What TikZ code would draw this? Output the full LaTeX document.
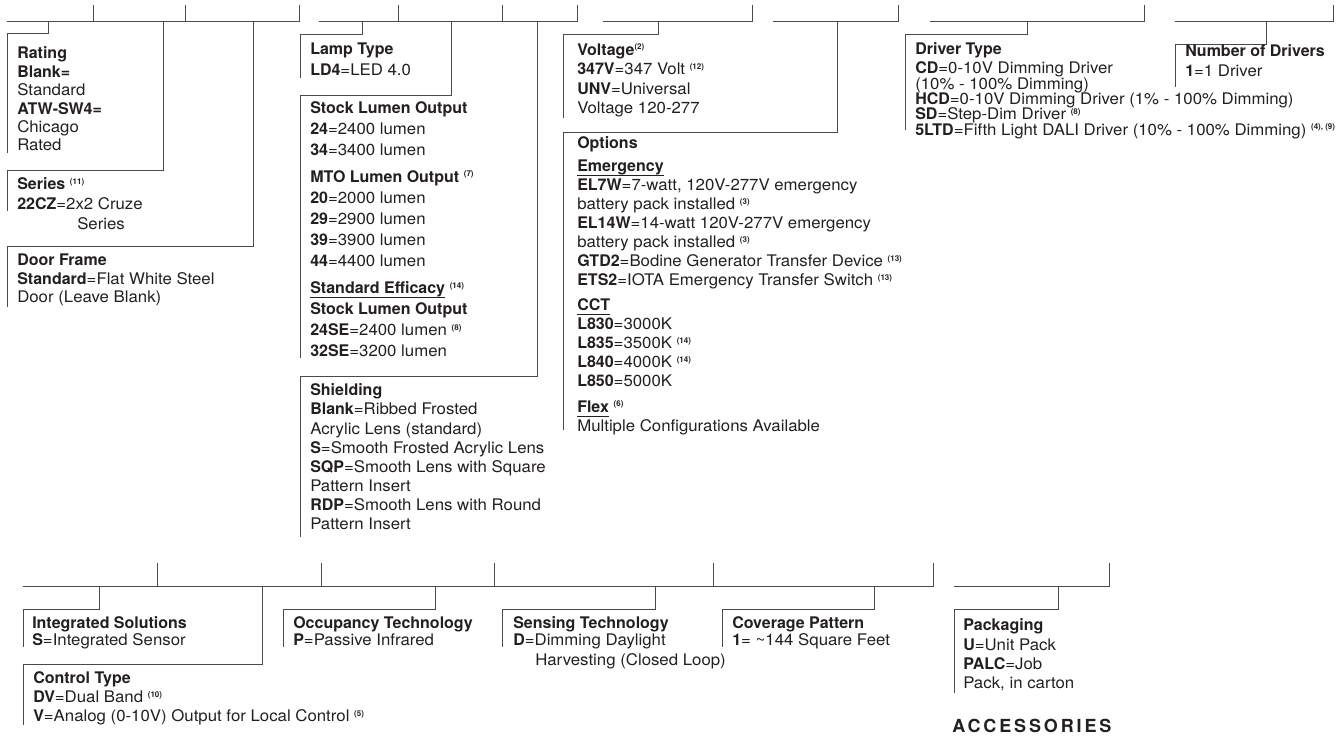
\documentclass[tikz,border=0pt]{standalone}
\usepackage{fontspec}
\setmainfont{TeX Gyre Heros}[UprightFeatures={FakeStretch=1.05}]
\definecolor{ink}{HTML}{231F20}
\definecolor{wirecol}{HTML}{4A4A4A}
\newcommand{\fnote}[1]{\raisebox{4.3pt}{\fontsize{6}{6}\selectfont\bfseries #1}}
\newcommand{\ulhead}[1]{\setbox0=\hbox{\bfseries #1}\rlap{\rule[-3pt]{\wd0}{0.7pt}}\box0\relax}

\begin{document}
\begin{tikzpicture}[x=0.75pt, y=-0.75pt]
  \tikzstyle{wire} = [draw=wirecol, line width=0.75pt]
  % the node point is the baseline of its first line
  \tikzstyle{field} = [anchor=north west, yshift=10pt, align=left, inner sep=0pt, text=ink,
                       execute at begin node={\rule{0pt}{10pt}},
                       font={\fontsize{12}{#1}\selectfont\lineskiplimit -20pt}]
  \useasboundingbox (0,0) rectangle (1339,737);

  % bars of the catalog number, top row and bottom row
  \foreach \from/\to/\y in {7/299/22, 319/577/22, 603/752/22, 773/898/22,
                            930/1144/22, 1175/1333/22, 23/933/587, 954/1109/587}
    \draw[wire] (\from,\y) -- (\to,\y);
  \foreach \x in {93,185,299,398,502,577,752,898,1144,1333}
    \draw[wire] (\x,5) -- (\x,22);
  \foreach \x in {157,321,494,713,933,1109}
    \draw[wire] (\x,563) -- (\x,587);

  % one bracket per field: tap on the bar, corner, end of the left rule
  \foreach \name/\bar/\tx/\ty/\lx/\by in {
      rating/22/48/34/7/153, series/22/163/171/7/211, door/22/253/247/7/307,
      lamp/22/362/35/300/78, stock/22/451/96/300/358, shield/22/537/377/300/537,
      volt/22/658/35/563/118, options/22/837/133/563/430,
      driver/22/1027/35/905/130, count/22/1266/45/1175/87,
      integ/587/99/609/23/647, control/587/262/664/23/725,
      occup/587/435/609/283/647, sensing/587/655/609/502/647,
      cover/587/874/609/722/647, pack/587/1058/609/954/693} {
    \coordinate (\name-tap) at (\tx,\bar);
    \coordinate (\name-top) at (\lx,\ty);
    \coordinate (\name-end) at (\lx,\by);
    \draw[wire] (\name-tap) |- (\name-top) -- (\name-end);
  }

  % top row
  \node[field=13.8pt] (rating) at (17,60)
    {\textbf{Rating}\\\textbf{Blank=}\\Standard\\\textbf{ATW-SW4=}\\Chicago\\Rated};
  \node[field=15pt] (series) at (17,191)
    {\textbf{Series} \fnote{(11)}\\\textbf{22CZ}=2x2 Cruze\\\hspace{45pt}Series};
  \node[field=13.9pt] (door) at (17,267)
    {\textbf{Door Frame}\\\textbf{Standard}=Flat White Steel\\Door (Leave Blank)};
  \node[field=15.75pt] (lamp) at (310,56)
    {\textbf{Lamp Type}\\\textbf{LD4}=LED 4.0};
  \node[field=15.75pt] (stock) at (310,115)
    {\textbf{Stock Lumen Output}\\\textbf{24}=2400 lumen\\\textbf{34}=3400 lumen\\[4pt]
     \textbf{MTO Lumen Output} \fnote{(7)}\\\textbf{20}=2000 lumen\\\textbf{29}=2900 lumen\\
     \textbf{39}=3900 lumen\\\textbf{44}=4400 lumen\\[5pt]
     \ulhead{Standard Efficacy} \fnote{(14)}\\\textbf{Stock Lumen Output}\\
     \textbf{24SE}=2400 lumen \fnote{(8)}\\\textbf{32SE}=3200 lumen};
  \node[field=14.35pt] (shield) at (310,397)
    {\textbf{Shielding}\\\textbf{Blank}=Ribbed Frosted\\Acrylic Lens (standard)\\
     \textbf{S}=Smooth Frosted Acrylic Lens\\\textbf{SQP}=Smooth Lens with Square\\
     Pattern Insert\\\textbf{RDP}=Smooth Lens with Round\\Pattern Insert};
  \node[field=14.5pt] (volt) at (577,57)
    {\textbf{Voltage}\fnote{(2)}\\\textbf{347V}=347 Volt \fnote{(12)}\\
     \textbf{UNV}=Universal\\Voltage 120-277};
  \node[field=14.25pt] (options) at (577,150)
    {\textbf{Options}\\[3pt]\ulhead{Emergency}\\
     \textbf{EL7W}=7-watt, 120V-277V emergency\\battery pack installed \fnote{(3)}\\
     \textbf{EL14W}=14-watt 120V-277V emergency\\battery pack installed \fnote{(3)}\\
     \textbf{GTD2}=Bodine Generator Transfer Device \fnote{(13)}\\
     \textbf{ETS2}=IOTA Emergency Transfer Switch \fnote{(13)}\\[4.5pt]
     \ulhead{CCT}\\\textbf{L830}=3000K\\\textbf{L835}=3500K \fnote{(14)}\\
     \textbf{L840}=4000K \fnote{(14)}\\\textbf{L850}=5000K\\[5pt]
     \ulhead{Flex} \fnote{(6)}\\Multiple Configurations Available};
  \node[field=11.5pt] (driver) at (915,56)
    {\textbf{Driver Type}\\[2.8pt]\textbf{CD}=0-10V Dimming Driver\\(10\% - 100\% Dimming)\\
     \textbf{HCD}=0-10V Dimming Driver (1\% - 100\% Dimming)\\
     \textbf{SD}=Step-Dim Driver \fnote{(8)}\\
     \textbf{5LTD}=Fifth Light DALI Driver (10\% - 100\% Dimming) \fnote{(4), (9)}};
  \node[field=15pt] (count) at (1185,58)
    {\textbf{Number of Drivers}\\\textbf{1}=1 Driver};

  % bottom row
  \node[field=12.75pt] (integ) at (32,630)
    {\textbf{Integrated Solutions}\\\textbf{S}=Integrated Sensor};
  \node[field=14.25pt] (control) at (33,685)
    {\textbf{Control Type}\\\textbf{DV}=Dual Band \fnote{(10)}\\
     \textbf{V}=Analog (0-10V) Output for Local Control \fnote{(5)}};
  \node[field=12.75pt] (occup) at (293,630)
    {\textbf{Occupancy Technology}\\\textbf{P}=Passive Infrared};
  \node[field=12.75pt] (sensing) at (513,630)
    {\textbf{Sensing Technology}\\\textbf{D}=Dimming Daylight\\[2.25pt]
     \hspace{16.5pt}Harvesting (Closed Loop)};
  \node[field=12.75pt] (cover) at (732,630)
    {\textbf{Coverage Pattern}\\\textbf{1}= \textasciitilde144 Square Feet};
  \node[field=14.5pt] (pack) at (963,632)
    {\textbf{Packaging}\\\textbf{U}=Unit Pack\\\textbf{PALC}=Job\\Pack, in carton};
  \node[anchor=base west, inner sep=0pt, text=ink,
        font={\fontsize{13.5}{16}\selectfont\bfseries\addfontfeature{LetterSpace=16}}]
    (accessories) at (952,732) {ACCESSORIES};
\end{tikzpicture}
\end{document}
